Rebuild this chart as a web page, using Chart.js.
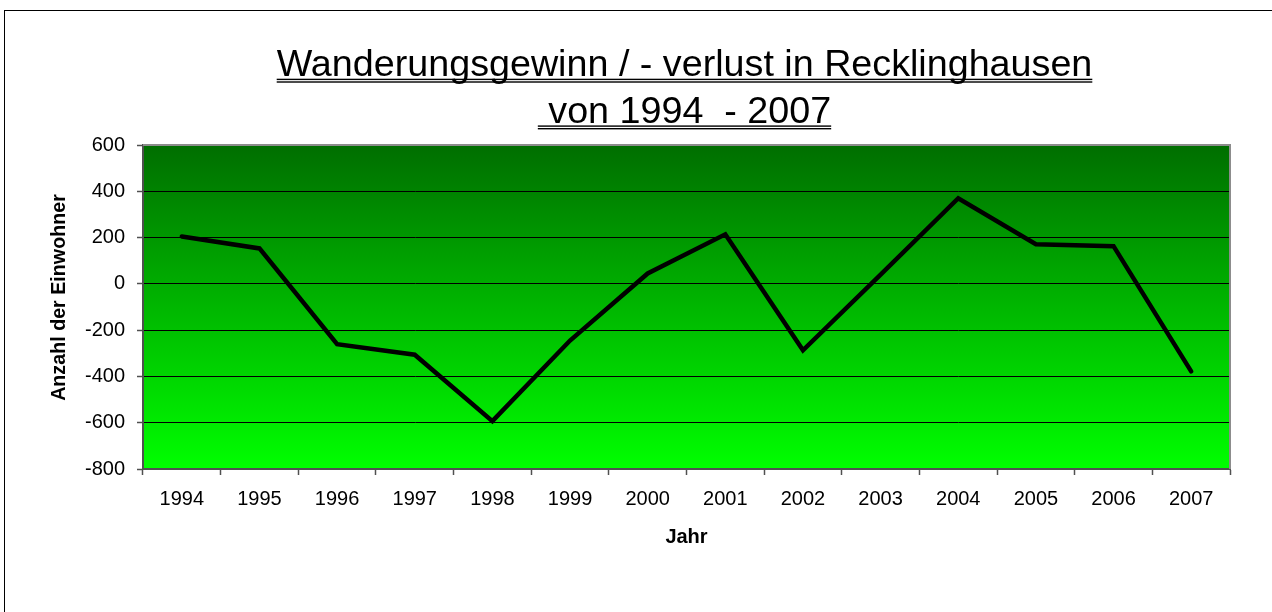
<!DOCTYPE html>
<html lang="de">
<head>
<meta charset="utf-8">
<title>Wanderungsgewinn / - verlust in Recklinghausen</title>
<script src="https://cdn.jsdelivr.net/npm/chart.js@4.4.1/dist/chart.umd.min.js"></script>
<style>
	html, body { margin: 0; padding: 0; background: #fff; overflow: hidden; }
	#wrap { position: relative; width: 1272px; height: 612px; }
	#frame { position: absolute; left: 4px; top: 10px; width: 1300px; height: 700px; border: 1px solid #000; box-sizing: border-box; pointer-events: none; }
	canvas { position: absolute; left: 0; top: 0; }
</style>
</head>
<body>
<div id="wrap">
	<canvas id="chartMigration" width="1272" height="612"></canvas>
	<div id="frame"></div>
</div>
<script>
// Data
const years = ["1994", "1995", "1996", "1997", "1998", "1999", "2000", "2001", "2002", "2003", "2004", "2005", "2006", "2007"];
const migration = [205, 153, -261, -306, -593, -245, 45, 214, -287, 40, 370, 171, 163, -378];
const titleLines = ["Wanderungsgewinn / - verlust in Recklinghausen", " von 1994  - 2007"];
const yAxisTitle = "Anzahl der Einwohner";
const xAxisTitle = "Jahr";
const yMin = -800;
const yMax = 600;
const yStep = 200;

const FONT = "'Liberation Sans', Arial, sans-serif";

// green gradient behind the plot area
const plotBackground = {
	id: "plotBackground",
	beforeDraw(chart) {
		const { ctx, chartArea: a } = chart;
		const grad = ctx.createLinearGradient(0, a.top, 0, a.bottom);
		grad.addColorStop(0, "rgb(0,110,0)");
		grad.addColorStop(1, "rgb(0,255,0)");
		ctx.save();
		ctx.fillStyle = grad;
		ctx.fillRect(a.left, a.top, a.right - a.left, a.bottom - a.top);
		ctx.restore();
	},
	afterDraw(chart) {
		// grey frame on top and right of the plot
		const { ctx, chartArea: a } = chart;
		ctx.save();
		ctx.strokeStyle = "#8c8c8c";
		ctx.lineWidth = 2;
		ctx.beginPath();
		ctx.moveTo(a.left, a.top);
		ctx.lineTo(a.right, a.top);
		ctx.lineTo(a.right, a.bottom);
		ctx.stroke();
		ctx.restore();
	},
};

// two-line title with double underline, plus the y axis title
const chartTexts = {
	id: "chartTexts",
	afterDraw(chart) {
		const ctx = chart.ctx;
		const cx = 684.5;
		const baselines = [76, 122.7];
		ctx.save();
		ctx.font = "37.7px " + FONT;
		ctx.fillStyle = "#000";
		ctx.textAlign = "center";
		ctx.textBaseline = "alphabetic";
		titleLines.forEach((line, i) => {
			const y = baselines[i];
			ctx.fillText(line, cx, y);
			const w = ctx.measureText(line).width;
			ctx.fillRect(cx - w / 2, y + 2.7, w, 1.4);
			ctx.fillRect(cx - w / 2, y + 5.3, w, 1.4);
		});

		// rotated y axis title (sits a bit above the plot centre, as in the original)
		ctx.font = "bold 19.7px " + FONT;
		ctx.textBaseline = "middle";
		ctx.translate(60, 297.5);
		ctx.rotate(-Math.PI / 2);
		ctx.fillText(yAxisTitle, 0, 0);
		ctx.restore();
	},
};

const ctxMig = document.getElementById("chartMigration");
new Chart(ctxMig, {
	type: "line",
	data: {
		labels: years,
		datasets: [
			{
				label: "Wanderungssaldo",
				data: migration,
				borderColor: "#000",
				borderWidth: 4.5,
				borderJoinStyle: "miter",
				borderCapStyle: "round",
				pointRadius: 0,
				tension: 0,
				fill: false,
			},
		],
	},
	options: {
		responsive: false,
		animation: false,
		layout: { padding: { top: 145, right: 42, left: 0, bottom: 0 } },
		plugins: {
			legend: { display: false },
			title: { display: false },
			tooltip: { enabled: false },
		},
		scales: {
			x: {
				offset: true,
				grid: {
					display: true,
					drawOnChartArea: false,
					offset: true,
					tickLength: 6,
					tickColor: "#505050",
					tickWidth: 1.5,
				},
				border: { display: true, color: "#505050", width: 2 },
				ticks: {
					color: "#000",
					font: { family: FONT, size: 20 },
					padding: 12,
					maxRotation: 0,
					autoSkip: false,
				},
				title: {
					display: true,
					text: xAxisTitle,
					color: "#000",
					font: { family: FONT, size: 20, weight: "bold" },
					padding: { top: 0, bottom: 63 },
				},
				afterFit(scale) {
					scale.height = 143;
				},
			},
			y: {
				min: yMin,
				max: yMax,
				ticks: {
					stepSize: yStep,
					color: "#000",
					font: { family: FONT, size: 20 },
					padding: 12,
				},
				grid: {
					color: "#000",
					lineWidth: 1,
					tickLength: 6,
					tickColor: "#505050",
					tickWidth: 1.5,
				},
				border: { display: true, color: "#505050", width: 2 },
				title: { display: false },
				afterFit(scale) {
					scale.width = 143;
				},
			},
		},
	},
	plugins: [plotBackground, chartTexts],
});
</script>
</body>
</html>
